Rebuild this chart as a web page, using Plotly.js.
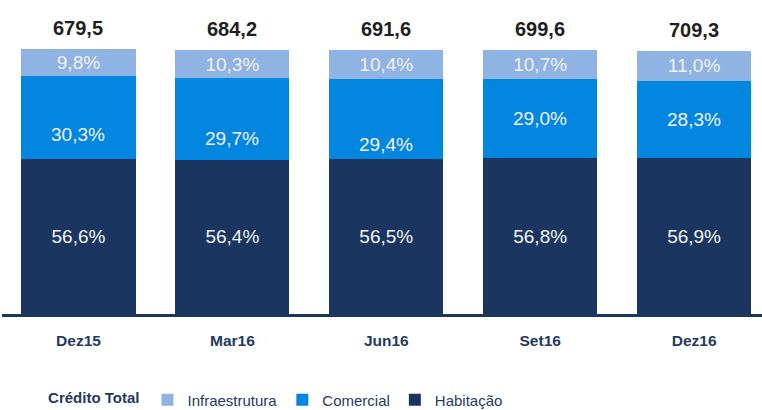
<!DOCTYPE html>
<html>
<head>
<meta charset="utf-8">
<script src="https://cdn.plot.ly/plotly-3.0.1.min.js"></script>
<style>html,body{margin:0;padding:0;background:#fff;}#chart{width:762px;height:410px;}</style>
</head>
<body>
<div id="chart"></div>
<script>
const categories = ["Dez15", "Mar16", "Jun16", "Set16", "Dez16"];
const habitacao = [56.6, 56.4, 56.5, 56.8, 56.9];
const comercial = [30.3, 29.7, 29.4, 29.0, 28.3];
const infraestrutura = [9.8, 10.3, 10.4, 10.7, 11.0];
const creditoTotal = [679.5, 684.2, 691.6, 699.6, 709.3];
// label offsets (px) for Comercial labels as placed in the reference
const comercialLabelShift = [17, 20, 25, 0, 0];

const FONT = "'Liberation Sans', Arial, sans-serif";
const NAVY = "#1b365d";

const traces = [
  {
    type: "bar", name: "Habitação", x: categories, y: habitacao,
    marker: {color: "#1a3660"},
    texttemplate: "%{y:.1f}%", textposition: "inside", insidetextanchor: "middle",
    constraintext: "none",
    textfont: {family: FONT, size: 19, color: "#f2f2f2"},
    hoverinfo: "skip"
  },
  {
    type: "bar", name: "Comercial", x: categories, y: comercial,
    marker: {color: "#0386df"},
    textposition: "none",
    hoverinfo: "skip"
  },
  {
    type: "bar", name: "Infraestrutura", x: categories, y: infraestrutura,
    marker: {color: "#8fb3e3"},
    texttemplate: "%{y:.1f}%", textposition: "inside", insidetextanchor: "middle",
    constraintext: "none",
    textfont: {family: FONT, size: 19, color: "#f2f2f2"},
    hoverinfo: "skip"
  }
];

const annotations = [];
categories.forEach((c, i) => {
  annotations.push({
    x: c, y: habitacao[i] + comercial[i] / 2, xref: "x", yref: "y",
    text: comercial[i].toFixed(1).replace(".", ",") + "%",
    showarrow: false, yshift: -comercialLabelShift[i],
    font: {family: FONT, size: 19, color: "#f2f2f2"}
  });
  annotations.push({
    x: c, y: habitacao[i] + comercial[i] + infraestrutura[i], xref: "x", yref: "y",
    text: "<b>" + creditoTotal[i].toFixed(1).replace(".", ",") + "</b>",
    showarrow: false, yanchor: "bottom", yshift: 8,
    font: {family: FONT, size: 20, color: "#1e1e1e"}
  });
});

const layout = {
  width: 762, height: 410,
  margin: {l: 2, r: 0, t: 10, b: 96, autoexpand: false},
  paper_bgcolor: "#ffffff", plot_bgcolor: "#ffffff",
  barmode: "stack", bargap: 0.259,
  separators: ",.",
  showlegend: true,
  font: {family: FONT, color: NAVY},
  xaxis: {
    type: "category", range: [-0.497, 4.441], automargin: false,
    showline: true, linecolor: NAVY, linewidth: 2.5,
    ticks: "", ticklabelstandoff: 11,
    tickfont: {family: FONT, size: 15.5, color: "#1f3a5f", weight: "bold"},
    showgrid: false, zeroline: false, fixedrange: true
  },
  yaxis: {
    range: [0, 111], visible: false, showgrid: false, zeroline: false, fixedrange: true
  },
  legend: {
    orientation: "h", traceorder: "reversed",
    x: 0.058, xanchor: "left", y: -0.283, yanchor: "middle",
    title: {text: "<b>Crédito Total</b>", side: "left", font: {family: FONT, size: 15, color: "#1f3a5f"}},
    font: {family: FONT, size: 15, color: "#1f3a5f"},
    bgcolor: "rgba(0,0,0,0)"
  },
  annotations: annotations
};

Plotly.newPlot("chart", traces, layout, {displayModeBar: false, staticPlot: true});
</script>
</body>
</html>
